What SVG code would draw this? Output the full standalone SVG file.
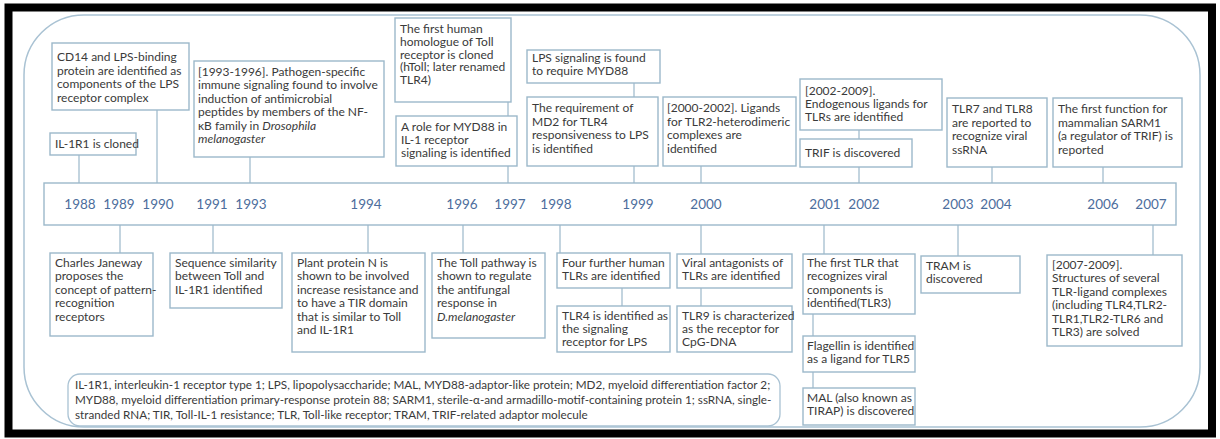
<svg xmlns="http://www.w3.org/2000/svg" width="1220" height="439" viewBox="0 0 1220 439">
<style>
.b{fill:#fff;stroke:#9cb8ca;stroke-width:1.4}
.t{font-family:Lato,"Liberation Sans",sans-serif;font-size:12px;fill:#3a3a3a}
.i{font-style:italic}
.y{font-family:Lato,"Liberation Sans",sans-serif;font-size:13.5px;fill:#4c6d9c;text-anchor:middle}
.c{stroke:#9cb8ca;stroke-width:1.2;fill:none}
.lg{font-family:Lato,"Liberation Sans",sans-serif;font-size:11.7px;fill:#3a3a3a}
</style>
<rect width="1220" height="439" fill="#fff"/>
<rect x="8.5" y="7.5" width="1203.5" height="426" fill="none" stroke="#000" stroke-width="8"/>
<rect x="24" y="15" width="1176" height="412" rx="60" fill="none" stroke="#a9c2d3" stroke-width="1.5"/>
<g id="connectors">
<path class="c" d="M79 155V183M157 110V183M250 157V183M508 102V116M508 166V183M634 83V97M634 166V183M701 166V183M859 130V139M859 167V183M992 167V183M1103 167V183"/>
<path class="c" d="M120 225V253M213 225V253M368 225V253M463 225V253M560 225V253M622 288V306M701 225V254M701 288V306M824 225V254M813 314V336M813 372V388M958 225V256M1153 225V255"/>
</g>
<g id="timeline">
<rect class="b" x="44" y="183" width="1132" height="42"/>
<text class="y" y="209"><tspan x="80">1988</tspan><tspan x="119">1989</tspan><tspan x="158">1990</tspan><tspan x="212">1991</tspan><tspan x="251">1993</tspan><tspan x="366">1994</tspan><tspan x="462">1996</tspan><tspan x="510">1997</tspan><tspan x="556">1998</tspan><tspan x="638">1999</tspan><tspan x="706">2000</tspan><tspan x="825">2001</tspan><tspan x="864">2002</tspan><tspan x="958">2003</tspan><tspan x="996">2004</tspan><tspan x="1103">2006</tspan><tspan x="1151">2007</tspan></text>
</g>
<g id="n-cd14"><rect class="b" x="52" y="43" width="137" height="67"/><text class="t" x="57" y="61"><tspan x="57">CD14 and LPS-binding</tspan><tspan x="57" dy="13.6">protein are identified as</tspan><tspan x="57" dy="13.6">components of the LPS</tspan><tspan x="57" dy="13.6">receptor complex</tspan></text></g>
<g id="n-il1r1"><rect class="b" x="50" y="133" width="86" height="22"/><text class="t" x="55" y="148">IL-1R1 is cloned</text></g>
<g id="n-pathogen"><rect class="b" x="194" y="61" width="190" height="96"/><text class="t" x="198" y="76"><tspan x="198">[1993-1996]. Pathogen-specific</tspan><tspan x="198" dy="13.4">immune signaling found to involve</tspan><tspan x="198" dy="13.4">induction of antimicrobial</tspan><tspan x="198" dy="13.4">peptides by members of the NF-</tspan><tspan x="198" dy="13.4">κB family in <tspan class="i">Drosophila</tspan></tspan><tspan x="198" dy="13.4" class="i">melanogaster</tspan></text></g>
<g id="n-homologue"><rect class="b" x="395" y="18" width="116" height="84"/><text class="t" x="400" y="33"><tspan x="400">The first human</tspan><tspan x="400" dy="12.8">homologue of Toll</tspan><tspan x="400" dy="12.8">receptor is cloned</tspan><tspan x="400" dy="12.8">(hToll; later renamed</tspan><tspan x="400" dy="12.8">TLR4)</tspan></text></g>
<g id="n-myd88role"><rect class="b" x="396" y="116" width="121" height="50"/><text class="t" x="401" y="131"><tspan x="401">A role for MYD88 in</tspan><tspan x="401" dy="13">IL-1 receptor</tspan><tspan x="401" dy="13">signaling is identified</tspan></text></g>
<g id="n-lpsmyd88"><rect class="b" x="527" y="50" width="133" height="33"/><text class="t" x="532" y="62"><tspan x="532">LPS signaling is found</tspan><tspan x="532" dy="13">to require MYD88</tspan></text></g>
<g id="n-md2"><rect class="b" x="527" y="97" width="131" height="69"/><text class="t" x="532" y="112"><tspan x="532">The requirement of</tspan><tspan x="532" dy="13.5">MD2 for TLR4</tspan><tspan x="532" dy="13.5">responsiveness to LPS</tspan><tspan x="532" dy="13.5">is identified</tspan></text></g>
<g id="n-tlr2ligands"><rect class="b" x="663" y="97" width="133" height="69"/><text class="t" x="667" y="112"><tspan x="667">[2000-2002]. Ligands</tspan><tspan x="667" dy="13.5">for TLR2-heterodimeric</tspan><tspan x="667" dy="13.5">complexes are</tspan><tspan x="667" dy="13.5">identified</tspan></text></g>
<g id="n-endogenous"><rect class="b" x="800" y="79" width="142" height="51"/><text class="t" x="805" y="95"><tspan x="805">[2002-2009].</tspan><tspan x="805" dy="13">Endogenous ligands for</tspan><tspan x="805" dy="13">TLRs are identified</tspan></text></g>
<g id="n-trif"><rect class="b" x="800" y="139" width="112" height="28"/><text class="t" x="805" y="157">TRIF is discovered</text></g>
<g id="n-tlr78"><rect class="b" x="947" y="98" width="100" height="69"/><text class="t" x="952" y="113"><tspan x="952">TLR7 and TLR8</tspan><tspan x="952" dy="13.6">are reported to</tspan><tspan x="952" dy="13.6">recognize viral</tspan><tspan x="952" dy="13.6">ssRNA</tspan></text></g>
<g id="n-sarm1"><rect class="b" x="1053" y="98" width="129" height="69"/><text class="t" x="1058" y="113"><tspan x="1058">The first function for</tspan><tspan x="1058" dy="13.6">mammalian SARM1</tspan><tspan x="1058" dy="13.6">(a regulator of TRIF) is</tspan><tspan x="1058" dy="13.6">reported</tspan></text></g>
<g id="n-janeway"><rect class="b" x="50" y="253" width="103" height="83"/><text class="t" x="55" y="267"><tspan x="55">Charles Janeway</tspan><tspan x="55" dy="13.4">proposes the</tspan><tspan x="55" dy="13.4">concept of pattern-</tspan><tspan x="55" dy="13.4">recognition</tspan><tspan x="55" dy="13.4">receptors</tspan></text></g>
<g id="n-sequence"><rect class="b" x="170" y="253" width="112" height="55"/><text class="t" x="175" y="267"><tspan x="175">Sequence similarity</tspan><tspan x="175" dy="13.4">between Toll and</tspan><tspan x="175" dy="13.4">IL-1R1 identified</tspan></text></g>
<g id="n-plant"><rect class="b" x="292" y="253" width="133" height="99"/><text class="t" x="297" y="267"><tspan x="297">Plant protein N is</tspan><tspan x="297" dy="13.4">shown to be involved</tspan><tspan x="297" dy="13.4">increase resistance and</tspan><tspan x="297" dy="13.4">to have a TIR domain</tspan><tspan x="297" dy="13.4">that is similar to Toll</tspan><tspan x="297" dy="13.4">and IL-1R1</tspan></text></g>
<g id="n-antifungal"><rect class="b" x="432" y="253" width="113" height="85"/><text class="t" x="437" y="267"><tspan x="437">The Toll pathway is</tspan><tspan x="437" dy="13.4">shown to regulate</tspan><tspan x="437" dy="13.4">the antifungal</tspan><tspan x="437" dy="13.4">response in</tspan><tspan x="437" dy="13.4" class="i">D.melanogaster</tspan></text></g>
<g id="n-fourtlrs"><rect class="b" x="557" y="253" width="113" height="35"/><text class="t" x="562" y="267"><tspan x="562">Four further human</tspan><tspan x="562" dy="13.4">TLRs are identified</tspan></text></g>
<g id="n-tlr4lps"><rect class="b" x="557" y="306" width="113" height="46"/><text class="t" x="562" y="320"><tspan x="562">TLR4 is identified as</tspan><tspan x="562" dy="13.2">the signaling</tspan><tspan x="562" dy="13.2">receptor for LPS</tspan></text></g>
<g id="n-viral"><rect class="b" x="677" y="254" width="115" height="34"/><text class="t" x="682" y="267"><tspan x="682">Viral antagonists of</tspan><tspan x="682" dy="13.4">TLRs are identified</tspan></text></g>
<g id="n-tlr9"><rect class="b" x="677" y="306" width="115" height="46"/><text class="t" x="682" y="320"><tspan x="682">TLR9 is characterized</tspan><tspan x="682" dy="13.2">as the receptor for</tspan><tspan x="682" dy="13.2">CpG-DNA</tspan></text></g>
<g id="n-tlr3"><rect class="b" x="803" y="254" width="112" height="60"/><text class="t" x="807" y="267"><tspan x="807">The first TLR that</tspan><tspan x="807" dy="13.4">recognizes viral</tspan><tspan x="807" dy="13.4">components is</tspan><tspan x="807" dy="13.4">identified(TLR3)</tspan></text></g>
<g id="n-flagellin"><rect class="b" x="803" y="336" width="112" height="36"/><text class="t" x="807" y="350"><tspan x="807">Flagellin is identified</tspan><tspan x="807" dy="13.4">as a ligand for TLR5</tspan></text></g>
<g id="n-mal"><rect class="b" x="803" y="388" width="112" height="37"/><text class="t" x="807" y="402"><tspan x="807">MAL (also known as</tspan><tspan x="807" dy="13.4">TIRAP) is discovered</tspan></text></g>
<g id="n-tram"><rect class="b" x="921" y="256" width="99" height="37"/><text class="t" x="926" y="270"><tspan x="926">TRAM is</tspan><tspan x="926" dy="13.4">discovered</tspan></text></g>
<g id="n-structures"><rect class="b" x="1047" y="255" width="135" height="91"/><text class="t" x="1052" y="269"><tspan x="1052">[2007-2009].</tspan><tspan x="1052" dy="13.4">Structures of several</tspan><tspan x="1052" dy="13.4">TLR-ligand complexes</tspan><tspan x="1052" dy="13.4">(including TLR4,TLR2-</tspan><tspan x="1052" dy="13.4">TLR1,TLR2-TLR6 and</tspan><tspan x="1052" dy="13.4">TLR3) are solved</tspan></text></g>
<g id="legend"><rect x="68" y="374" width="712" height="52" rx="12" fill="#fff" stroke="#a9c2d3" stroke-width="1.3"/><text class="lg" x="75" y="389"><tspan x="75">IL-1R1, interleukin-1 receptor type 1; LPS, lipopolysaccharide; MAL, MYD88-adaptor-like protein; MD2, myeloid differentiation factor 2;</tspan><tspan x="75" dy="15">MYD88, myeloid differentiation primary-response protein 88; SARM1, sterile-α-and armadillo-motif-containing protein 1; ssRNA, single-</tspan><tspan x="75" dy="15">stranded RNA; TIR, Toll-IL-1 resistance; TLR, Toll-like receptor; TRAM, TRIF-related adaptor molecule</tspan></text></g>
</svg>
